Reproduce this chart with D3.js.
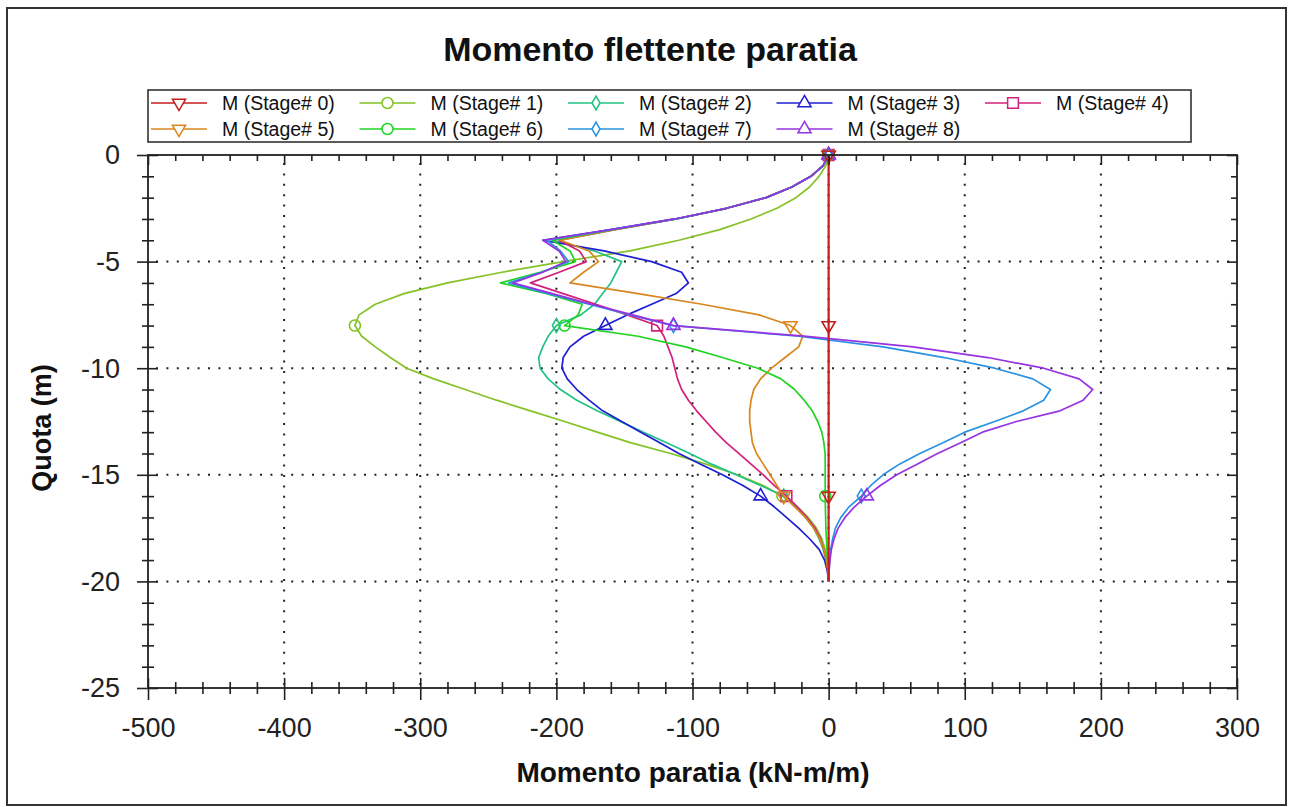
<!DOCTYPE html>
<html>
<head>
<meta charset="utf-8">
<script src="https://cdn.jsdelivr.net/npm/d3@7"></script>
<style>
  html, body { margin: 0; padding: 0; background: #ffffff; }
  svg { display: block; font-family: "Liberation Sans", Arial, sans-serif; }
</style>
</head>
<body>
<svg id="chart" width="1291" height="807"></svg>
<script>
// Depth along the wall (m), one value every 0.5 m
const quota = [0,-0.5,-1,-1.5,-2,-2.5,-3,-3.5,-4,-4.5,-5,-5.5,-6,-6.5,-7,-7.5,-8,-8.5,-9,-9.5,-10,
  -10.5,-11,-11.5,-12,-12.5,-13,-13.5,-14,-14.5,-15,-15.5,-16,-16.5,-17,-17.5,-18,-18.5,-19,-19.5,-20];

// Bending moment (kN-m/m) for each construction stage, same depths as "quota"
const stage0 = [0,0,0,0,0,0,0,0,0,0,0,0,0,0,0,0,0,0,0,0,0,0,0,0,0,0,0,0,0,0,0,0,0,0,0,0,0,0,0,0,0];
const stage1 = [0,-2,-7,-14,-24,-38,-57,-80,-110,-146,-195,-240,-280,-312,-333,-345,-348,-343,-333,-322,-310,
  -290,-267,-244,-219,-194,-170,-145,-116,-90,-67,-48,-34,-23,-15,-9,-5,-2.5,-1,-0.3,0];
const stage2 = [0,-4,-13,-27,-46,-75,-112,-158,-203,-172,-152,-156,-160,-166,-172,-182,-200,-206,-210,-213,-212,
  -206,-197,-185,-170,-153,-136,-119,-102,-86,-68,-50,-33,-24,-17,-11,-7,-4,-2,-0.7,0];
const stage3 = [0,-4,-13,-27,-46,-75,-113,-160,-210,-165,-130,-108,-103,-112,-130,-148,-164,-180,-190,-195,-196,
  -192,-185,-176,-166,-152,-138,-124,-110,-94,-78,-63,-50,-40,-31,-22,-14,-7,-3,-1,0];
const stage4 = [0,-4,-13,-27,-46,-75,-112,-157,-198,-183,-178,-198,-219,-195,-171,-148,-126,-121,-118,-115,-113,
  -111,-108,-103,-97,-90,-83,-75,-66,-57,-48,-40,-31,-23,-16,-10,-6,-3.5,-1.8,-0.6,0];
const stage5 = [0,-4,-13,-27,-46,-75,-112,-157,-197,-176,-169,-180,-190,-140,-93,-51,-28,-19,-22,-32,-42,
  -50,-55,-57,-58,-58,-57,-56,-53,-48,-43,-38,-33,-25,-17,-11,-6.5,-3.5,-1.7,-0.5,0];
const stage6 = [0,-4,-13,-27,-46,-75,-112,-158,-203,-190,-186,-212,-241,-207,-181,-184,-194,-140,-105,-78,-52,
  -35,-25,-18,-12,-8,-5,-3.5,-2.6,-2.5,-2.5,-2.5,-2.5,-2.4,-2.2,-2,-1.6,-1.2,-0.8,-0.4,0];
const stage7 = [0,-4,-13,-27,-46,-75,-112,-160,-207,-197,-191,-211,-235,-206,-176,-146,-114,-22,40,85,122,
  150,163,158,143,122,100,84,67,52,40,31,24,15,9,5,3,1.5,0.8,0.3,0];
const stage8 = [0,-4,-13,-27,-46,-75,-113,-160,-210,-198,-193,-210,-232,-203,-174,-144,-114,-18,62,117,158,
  184,194,187,170,138,113,97,80,65,50,38,28,19,12,7,4,2,1,0.3,0];

const stageNames = ["M (Stage# 0)","M (Stage# 1)","M (Stage# 2)","M (Stage# 3)","M (Stage# 4)",
  "M (Stage# 5)","M (Stage# 6)","M (Stage# 7)","M (Stage# 8)"];
const stageColors = ["#c41e1e","#84c226","#22c383","#1e1ed2","#d2217c","#da861e","#22d422","#2a92e2","#9633e2"];
const stageSymbols = ["triangleDown","circle","diamond","triangle","square","triangleDown","circle","diamond","triangle"];

// Axis ticks
const xMajorTicks = [-500,-400,-300,-200,-100,0,100,200,300];
const xMinorTicks = [-480,-460,-440,-420,-380,-360,-340,-320,-280,-260,-240,-220,-180,-160,-140,-120,
  -80,-60,-40,-20,20,40,60,80,120,140,160,180,220,240,260,280];
const yMajorTicks = [0,-5,-10,-15,-20,-25];
const yMinorTicks = [-1,-2,-3,-4,-6,-7,-8,-9,-11,-12,-13,-14,-16,-17,-18,-19,-21,-22,-23,-24];

const titleText = "Momento flettente paratia";
const xLabelText = "Momento paratia (kN-m/m)";
const yLabelText = "Quota (m)";

const stageValues = [stage0, stage1, stage2, stage3, stage4, stage5, stage6, stage7, stage8];
const series = stageValues.map((vals, i) => ({
  name: stageNames[i], color: stageColors[i], symbol: stageSymbols[i],
  points: vals.map((m, k) => ({ m: m, z: quota[k], k: k }))
}));

const svg = d3.select("#chart");
const plot = { left: 148, right: 1237, top: 155, bottom: 688 };

const x = d3.scaleLinear().domain([-500, 300]).range([plot.left, plot.right]);
const y = d3.scaleLinear().domain([0, -25]).range([plot.top, plot.bottom]);

// outer frame
svg.append("rect").attr("x", 7).attr("y", 8).attr("width", 1279).attr("height", 797)
  .attr("fill", "#fff").attr("stroke", "#333").attr("stroke-width", 2);

// title
svg.append("text").attr("x", 650).attr("y", 61).attr("text-anchor", "middle")
  .attr("font-size", 34).attr("font-weight", "bold").attr("fill", "#111").text(titleText);

// dotted grid
const grid = svg.append("g").attr("stroke", "#222").attr("stroke-width", 2).attr("stroke-dasharray", "2 8.4");
grid.selectAll(".vg").data(xMajorTicks.slice(1, -1)).join("line")
  .attr("x1", d => x(d)).attr("x2", d => x(d)).attr("y1", plot.top + 8).attr("y2", plot.bottom);
grid.selectAll(".hg").data(yMajorTicks.slice(1, -1)).join("line")
  .attr("x1", plot.left + 8).attr("x2", plot.right).attr("y1", d => y(d)).attr("y2", d => y(d));

// symbol generator
function symbolPath(kind) {
  const map = {
    triangleDown: [d3.symbolTriangle, 75],
    triangle: [d3.symbolTriangle, 75],
    circle: [d3.symbolCircle, 95],
    diamond: [d3.symbolDiamond, 55],
    square: [d3.symbolSquare, 115]
  };
  const s = map[kind];
  return d3.symbol().type(s[0]).size(s[1])();
}
function symbolTransform(kind, px, py) {
  return kind === "triangleDown" ? `translate(${px},${py}) rotate(180)` : `translate(${px},${py})`;
}

// curves
const line = d3.line().x(d => x(d.m)).y(d => y(d.z));
const drawOrder = [1, 2, 3, 4, 5, 6, 7, 8, 0];
const curves = svg.append("g");
drawOrder.forEach(i => {
  const s = series[i];
  const g = curves.append("g");
  g.append("path").datum(s.points).attr("d", line).attr("fill", "none")
    .attr("stroke", s.color).attr("stroke-width", i === 0 ? 2.2 : 1.7).attr("stroke-linejoin", "round");
  g.selectAll("path.mk").data(s.points.filter(p => p.k % 16 === 0)).join("path")
    .attr("class", "mk")
    .attr("d", symbolPath(s.symbol))
    .attr("transform", p => symbolTransform(s.symbol, x(p.m), y(p.z)))
    .attr("fill", "none").attr("stroke", s.color).attr("stroke-width", 1.6);
});

// axes
const tickStyle = sel => {
  sel.select(".domain").remove();
  sel.selectAll(".tick line").attr("stroke", "#222").attr("stroke-width", 1.6);
  sel.selectAll(".tick text").attr("fill", "#222").attr("font-size", 27)
    .attr("font-family", "'Liberation Sans', Arial, sans-serif");
};

// bottom: major ticks cross the axis line
const bMaj = svg.append("g").attr("transform", `translate(0,${plot.bottom})`)
  .call(d3.axisBottom(x).tickValues(xMajorTicks).tickSize(12).tickFormat(d => String(d)));
tickStyle(bMaj);
bMaj.selectAll(".tick line").attr("y1", -10).attr("y2", 12);
bMaj.selectAll(".tick text").attr("y", 49).attr("dy", null);
const bMin = svg.append("g").attr("transform", `translate(0,${plot.bottom})`)
  .call(d3.axisBottom(x).tickValues(xMinorTicks).tickSize(6).tickFormat(""));
tickStyle(bMin);
bMin.selectAll(".tick line").attr("y1", -6).attr("y2", 6);

// left
const lMaj = svg.append("g").attr("transform", `translate(${plot.left},0)`)
  .call(d3.axisLeft(y).tickValues(yMajorTicks).tickSize(11).tickFormat(d => String(d)));
tickStyle(lMaj);
lMaj.selectAll(".tick line").attr("x1", 10).attr("x2", -11);
lMaj.selectAll(".tick text").attr("x", -28).attr("dy", "0.33em");
const lMin = svg.append("g").attr("transform", `translate(${plot.left},0)`)
  .call(d3.axisLeft(y).tickValues(yMinorTicks).tickSize(6).tickFormat(""));
tickStyle(lMin);
lMin.selectAll(".tick line").attr("x1", 6).attr("x2", -6);

// top and right: inward ticks only
const tMaj = svg.append("g").attr("transform", `translate(0,${plot.top})`)
  .call(d3.axisBottom(x).tickValues(xMajorTicks).tickSize(10).tickFormat(""));
tickStyle(tMaj);
const tMin = svg.append("g").attr("transform", `translate(0,${plot.top})`)
  .call(d3.axisBottom(x).tickValues(xMinorTicks).tickSize(6).tickFormat(""));
tickStyle(tMin);
const rMaj = svg.append("g").attr("transform", `translate(${plot.right},0)`)
  .call(d3.axisLeft(y).tickValues(yMajorTicks).tickSize(10).tickFormat(""));
tickStyle(rMaj);
const rMin = svg.append("g").attr("transform", `translate(${plot.right},0)`)
  .call(d3.axisLeft(y).tickValues(yMinorTicks).tickSize(6).tickFormat(""));
tickStyle(rMin);

// plot frame
svg.append("rect").attr("x", plot.left).attr("y", plot.top)
  .attr("width", plot.right - plot.left).attr("height", plot.bottom - plot.top)
  .attr("fill", "none").attr("stroke", "#222").attr("stroke-width", 1.8);

// axis titles
svg.append("text").attr("x", 693).attr("y", 782).attr("text-anchor", "middle")
  .attr("font-size", 28).attr("font-weight", "bold").attr("fill", "#111").text(xLabelText);
svg.append("text").attr("transform", "translate(51,428) rotate(-90)").attr("text-anchor", "middle")
  .attr("font-size", 27).attr("font-weight", "bold").attr("fill", "#111").text(yLabelText);

// legend
const legend = svg.append("g");
legend.append("rect").attr("x", 148).attr("y", 90).attr("width", 1043).attr("height", 52)
  .attr("fill", "#fff").attr("stroke", "#333").attr("stroke-width", 1.6);
series.forEach((s, i) => {
  const col = i % 5, row = Math.floor(i / 5);
  const x0 = 151 + col * 208.5, yy = 103 + row * 26;
  const item = legend.append("g");
  item.append("line").attr("x1", x0).attr("x2", x0 + 56).attr("y1", yy).attr("y2", yy)
    .attr("stroke", s.color).attr("stroke-width", 1.6);
  item.append("path").attr("d", symbolPath(s.symbol))
    .attr("transform", symbolTransform(s.symbol, x0 + 28, yy))
    .attr("fill", "#fff").attr("stroke", s.color).attr("stroke-width", 1.5);
  item.append("text").attr("x", x0 + 71).attr("y", yy).attr("dy", "0.35em")
    .attr("font-size", 19.5).attr("fill", "#111").text(s.name);
});
</script>
</body>
</html>
